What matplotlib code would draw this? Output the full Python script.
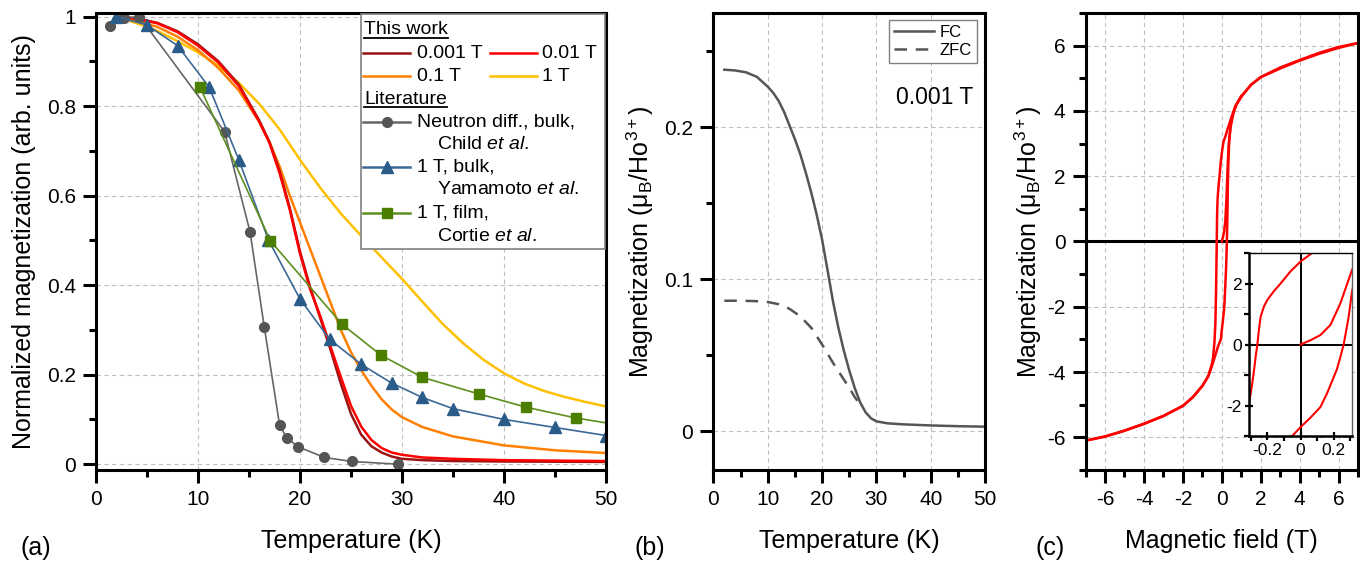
import matplotlib
matplotlib.use('Agg')
import matplotlib.pyplot as plt
from matplotlib.lines import Line2D
from matplotlib.patches import Rectangle
from matplotlib.ticker import MultipleLocator, FuncFormatter

plt.rcParams['font.family'] = ['Liberation Sans', 'DejaVu Sans']
plt.rcParams['mathtext.fontset'] = 'custom'
plt.rcParams['mathtext.rm'] = 'Liberation Sans'
plt.rcParams['mathtext.it'] = 'Liberation Sans:italic'
plt.rcParams['axes.unicode_minus'] = False

# ---- (a) normalized magnetization vs temperature ----
T_fit = [2, 4, 6, 8, 10, 12, 14, 16, 17, 18, 19, 20, 21, 22, 23, 24, 25, 26, 27, 28, 29, 30, 32, 35, 40, 45, 50]
m_0001 = [1.0, 0.996, 0.986, 0.967, 0.938, 0.9, 0.848, 0.768, 0.72, 0.655, 0.572, 0.475, 0.395, 0.325, 0.255,
          0.18, 0.112, 0.066, 0.04, 0.026, 0.017, 0.012, 0.009, 0.007, 0.006, 0.0055, 0.005]
m_001 = [1.0, 0.995, 0.985, 0.965, 0.935, 0.897, 0.845, 0.765, 0.718, 0.65, 0.568, 0.47, 0.39, 0.33, 0.262,
         0.195, 0.13, 0.084, 0.054, 0.036, 0.026, 0.021, 0.015, 0.012, 0.009, 0.008, 0.007]
m_01 = [1.0, 0.99, 0.977, 0.955, 0.925, 0.885, 0.835, 0.765, 0.72, 0.665, 0.6, 0.54, 0.48, 0.42, 0.36,
        0.3, 0.25, 0.21, 0.175, 0.145, 0.122, 0.105, 0.083, 0.062, 0.042, 0.031, 0.025]
T_1T = [2, 4, 6, 8, 10, 12, 14, 16, 18, 20, 22, 24, 26, 28, 30, 32, 34, 36, 38, 40, 42, 44, 46, 48, 50]
m_1 = [1.0, 0.985, 0.968, 0.945, 0.92, 0.89, 0.852, 0.805, 0.748, 0.68, 0.617, 0.56, 0.51, 0.462, 0.414,
       0.363, 0.313, 0.27, 0.233, 0.203, 0.18, 0.163, 0.15, 0.139, 0.129]

T_child = [1.4, 2.7, 4.25, 12.6, 15.1, 16.5, 18.0, 18.7, 19.8, 22.4, 25.1, 29.6]
m_child = [0.978, 0.996, 1.0, 0.743, 0.519, 0.306, 0.087, 0.059, 0.039, 0.015, 0.006, 0.0]
T_yama = [2.0, 5.0, 8.0, 11.1, 14.0, 16.9, 20.0, 22.9, 26.0, 29.0, 32.0, 35.0, 40.0, 45.0, 50.0]
m_yama = [1.0, 0.981, 0.935, 0.842, 0.68, 0.501, 0.369, 0.279, 0.223, 0.181, 0.149, 0.124, 0.1, 0.082, 0.064]
T_cortie = [10.2, 17.1, 24.1, 27.9, 32.0, 37.5, 42.2, 47.1, 52.0]
m_cortie = [0.842, 0.499, 0.313, 0.244, 0.194, 0.157, 0.127, 0.103, 0.085]

# ---- (b) FC / ZFC at 0.001 T ----
T_fc = [2, 4, 6, 8, 10, 11, 12, 13, 14, 15, 16, 17, 18, 19, 20, 21, 22, 23, 24, 25, 26, 27, 28, 29, 30,
        32, 35, 40, 45, 50]
M_fc = [0.2377, 0.2372, 0.2360, 0.2330, 0.2265, 0.2225, 0.2172, 0.2100, 0.2010, 0.1920, 0.1820, 0.1700,
        0.1570, 0.1425, 0.1260, 0.1060, 0.0855, 0.0680, 0.0530, 0.0400, 0.0285, 0.0190, 0.0125, 0.0085,
        0.0065, 0.0052, 0.0045, 0.0038, 0.0033, 0.0030]
T_zfc = [2, 4, 6, 8, 10, 12, 14, 16, 18, 20, 22, 24, 25, 26, 26.5]
M_zfc = [0.0858, 0.0858, 0.0857, 0.0855, 0.0850, 0.0835, 0.0805, 0.0755, 0.0680, 0.0570, 0.0450, 0.0340,
         0.0285, 0.0225, 0.0200]

# ---- (c) hysteresis loop ----
H_down = [7, 6, 5, 4, 3, 2, 1.5, 1, 0.7, 0.5, 0.3, 0.2, 0.1, 0.07, 0, -0.06, -0.12, -0.16, -0.2, -0.22,
          -0.24, -0.25, -0.26, -0.27, -0.28, -0.29, -0.3, -0.33, -0.38, -0.45, -0.5, -0.7, -1, -1.5, -2,
          -3, -4, -5, -6, -7]
M_down = [6.08, 5.93, 5.75, 5.54, 5.3, 5.03, 4.8, 4.43, 4.15, 3.82, 3.45, 3.25, 3.08, 3.0, 2.72, 2.4, 2.0,
          1.75, 1.46, 1.25, 0.91, 0.5, 0.0, -0.4, -0.85, -1.25, -1.61, -2.5, -3.1, -3.55, -3.74, -4.12,
          -4.43, -4.78, -5.04, -5.35, -5.59, -5.8, -5.98, -6.1]
H_up = [-7, -6, -5, -4, -3, -2, -1.5, -1, -0.7, -0.5, -0.3, -0.2, -0.05, 0, 0.06, 0.12, 0.16, 0.2, 0.22,
        0.24, 0.26, 0.275, 0.29, 0.31, 0.34, 0.38, 0.45, 0.5, 0.7, 1, 1.5, 2, 3, 4, 5, 6, 7]
M_up = [-6.1, -5.97, -5.79, -5.58, -5.34, -5.03, -4.77, -4.42, -4.14, -3.8, -3.42, -3.22, -3.0, -2.71,
        -2.4, -2.05, -1.6, -1.07, -0.8, -0.41, 0.0, 0.45, 0.91, 1.73, 2.5, 3.1, 3.55, 3.75, 4.15, 4.45,
        4.8, 5.04, 5.33, 5.56, 5.78, 5.96, 6.08]
H_virgin = [0, 0.06, 0.12, 0.18, 0.24, 0.31, 0.36, 0.45, 0.6, 0.8, 1.0]
M_virgin = [0, 0.14, 0.31, 0.64, 1.35, 2.44, 3.0, 3.5, 3.95, 4.25, 4.45]

C_0001, C_001, C_01, C_1 = '#9b1414', '#ff0000', '#ff8000', '#ffc000'
C_child, C_yama, C_cortie = '#555555', '#2b5b89', '#4c7f00'
GRAY = '#555555'

fmt = FuncFormatter(lambda v, p: '%g' % round(v, 6))


def style(ax, xmaj, xmin, ymaj, ymin):
    for s in ax.spines.values():
        s.set_linewidth(2.2)
    ax.xaxis.set_major_locator(MultipleLocator(xmaj))
    ax.xaxis.set_minor_locator(MultipleLocator(xmin))
    ax.yaxis.set_major_locator(MultipleLocator(ymaj))
    ax.yaxis.set_minor_locator(MultipleLocator(ymin))
    ax.xaxis.set_major_formatter(fmt)
    ax.yaxis.set_major_formatter(fmt)
    ax.tick_params(which='major', direction='out', length=9.5, width=2.2, labelsize=15, pad=5)
    ax.tick_params(which='minor', direction='out', length=5, width=2.2)
    ax.grid(True, which='major', ls=(0, (4, 3)), lw=0.8, color='#c0c0c0')
    ax.set_axisbelow(True)


fig = plt.figure(figsize=(13.6, 5.62), dpi=100)
ax_a = fig.add_axes([0.0706, 0.1637, 0.375, 0.8132])
ax_b = fig.add_axes([0.5246, 0.1637, 0.1997, 0.8132])
ax_c = fig.add_axes([0.7982, 0.1637, 0.2004, 0.8132])

# panel a
ax_a.plot(T_1T, m_1, color=C_1, lw=1.8)
ax_a.plot(T_fit, m_01, color=C_01, lw=1.8)
ax_a.plot(T_fit, m_0001, color=C_0001, lw=1.8)
ax_a.plot(T_fit, m_001, color=C_001, lw=1.8)
ax_a.plot(T_child, m_child, color='#666666', lw=1.2, marker='o', ms=7, mfc=C_child, mec=C_child)
ax_a.plot(T_yama, m_yama, color='#3b6896', lw=1.2, marker='^', ms=8, mfc=C_yama, mec=C_yama)
ax_a.plot(T_cortie, m_cortie, color='#5e8f1e', lw=1.2, marker='s', ms=6.5, mfc=C_cortie, mec=C_cortie)
ax_a.set_xlim(0, 50)
ax_a.set_ylim(-0.013, 1.008)
style(ax_a, 10, 5, 0.2, 0.1)
ax_a.set_xlabel('Temperature (K)', fontsize=18, labelpad=14)
ax_a.set_ylabel('Normalized magnetization (arb. units)', fontsize=18, labelpad=8)

# legend of panel a, drawn by hand (two groups with underlined headings)
box = Rectangle((0.5196, 0.4836), 0.4784, 0.5142, transform=ax_a.transAxes, fc='white',
                ec='#808080', lw=1.2, zorder=5)
ax_a.add_patch(box)


def handle(x0, x1, y, color, marker=None, ms=0, mcolor=None):
    ax_a.add_line(Line2D([x0, x1], [y, y], transform=ax_a.transAxes, color=color, lw=1.8,
                         clip_on=False, zorder=6))
    if marker:
        ax_a.add_line(Line2D([(x0 + x1) / 2], [y], transform=ax_a.transAxes, marker=marker, ms=ms,
                             mfc=mcolor, mec=mcolor, ls='none', clip_on=False, zorder=7))


def ltext(x, y, s):
    return ax_a.text(x, y, s, transform=ax_a.transAxes, fontsize=14, va='center', ha='left', zorder=7)


hx0, hx1, tx = 0.5241, 0.6157, 0.6288
h1 = ltext(0.5255, 0.9628, 'This work')
handle(hx0, hx1, 0.9118, C_0001)
ltext(tx, 0.9118, '0.001 T')
handle(0.7725, 0.8641, 0.9118, C_001)
ltext(0.874, 0.9118, '0.01 T')
handle(hx0, hx1, 0.8621, C_01)
ltext(tx, 0.8621, '0.1 T')
handle(0.7725, 0.8641, 0.8621, C_1)
ltext(0.874, 0.8621, '1 T')
h2 = ltext(0.5255, 0.8111, 'Literature')
handle(hx0, hx1, 0.7622, '#666666', 'o', 7, C_child)
ltext(tx, 0.7622, 'Neutron diff., bulk,')
ltext(0.668, 0.7112, r'Child $\mathit{et\ al.}$')
handle(hx0, hx1, 0.6637, '#3b6896', '^', 8, C_yama)
ltext(tx, 0.6637, '1 T, bulk,')
ltext(0.668, 0.6127, r'Yamamoto $\mathit{et\ al.}$')
handle(hx0, hx1, 0.563, '#5e8f1e', 's', 6.5, C_cortie)
ltext(tx, 0.563, '1 T, film,')
ltext(0.668, 0.512, r'Cortie $\mathit{et\ al.}$')

# panel b
ax_b.plot(T_fc, M_fc, color=GRAY, lw=1.8, label='FC')
ax_b.plot(T_zfc, M_zfc, color=GRAY, lw=1.8, dashes=(5, 3.5), label='ZFC')
ax_b.set_xlim(0, 50)
ax_b.set_ylim(-0.0255, 0.275)
style(ax_b, 10, 5, 0.1, 0.05)
ax_b.set_xlabel('Temperature (K)', fontsize=18, labelpad=14)
ax_b.set_ylabel('Magnetization (μ$_\\mathregular{B}$/Ho$^\\mathregular{3+}$)', fontsize=18, labelpad=6)
leg = ax_b.legend(loc='upper right', bbox_to_anchor=(0.9694, 0.9847), fontsize=12, fancybox=False,
                  edgecolor='#808080', framealpha=1, handlelength=2.4, handletextpad=0.3,
                  borderpad=0.3, labelspacing=0.2, borderaxespad=0)
leg.get_frame().set_linewidth(1.0)
ax_b.text(0.955, 0.816, '0.001 T', transform=ax_b.transAxes, fontsize=16.5, ha='right', va='center')

# panel c
ax_c.axhline(0, color='k', lw=2.2, zorder=1.5)
ax_c.plot(H_down, M_down, color=C_001, lw=1.8)
ax_c.plot(H_up, M_up, color=C_001, lw=1.8)
ax_c.plot(H_virgin, M_virgin, color=C_001, lw=1.8)
ax_c.set_xlim(-7, 7)
ax_c.set_ylim(-7, 7)
style(ax_c, 2, 1, 2, 1)
ax_c.set_xlabel('Magnetic field (T)', fontsize=18, labelpad=14)
ax_c.set_ylabel('Magnetization (μ$_\\mathregular{B}$/Ho$^\\mathregular{3+}$)', fontsize=18, labelpad=2)

# inset of panel c
ins = fig.add_axes([0.9184, 0.2242, 0.0757, 0.3256])
ins.set_facecolor('white')
ins.axhline(0, color='k', lw=1.4)
ins.axvline(0, color='k', lw=1.4)
ins.plot(H_down, M_down, color=C_001, lw=1.5)
ins.plot(H_up, M_up, color=C_001, lw=1.5)
ins.plot(H_virgin, M_virgin, color=C_001, lw=1.5)
ins.set_xlim(-0.31, 0.31)
ins.set_ylim(-3, 3)
ins.xaxis.set_major_locator(MultipleLocator(0.2))
ins.xaxis.set_minor_locator(MultipleLocator(0.1))
ins.yaxis.set_major_locator(MultipleLocator(2))
ins.yaxis.set_minor_locator(MultipleLocator(1))
ins.xaxis.set_major_formatter(fmt)
ins.yaxis.set_major_formatter(fmt)
ins.tick_params(which='major', direction='inout', length=6, width=1.6, labelsize=12.5, pad=2)
ins.tick_params(which='minor', direction='out', length=3.5, width=1.6)
ins.spines['left'].set_linewidth(1.8)
ins.spines['bottom'].set_linewidth(1.8)
ins.spines['top'].set_linewidth(1.0)
ins.spines['right'].set_linewidth(1.0)
ins.spines['right'].set_color('#606060')

fig.text(0.0265, 0.025, '(a)', fontsize=18, va='center', ha='center')
fig.text(0.478, 0.025, '(b)', fontsize=18, va='center', ha='center')
fig.text(0.772, 0.025, '(c)', fontsize=18, va='center', ha='center')

# underline the two legend headings
fig.canvas.draw()
inv = ax_a.transAxes.inverted()
for t in (h1, h2):
    bb = t.get_window_extent()
    (x0, y0), (x1, y1) = inv.transform([(bb.x0, bb.y0), (bb.x1, bb.y1)])
    ax_a.add_line(Line2D([x0, x1], [y0 + 0.002, y0 + 0.002], transform=ax_a.transAxes, color='k',
                         lw=1.3, clip_on=False, zorder=7))

fig.savefig('out.png', dpi=100)
